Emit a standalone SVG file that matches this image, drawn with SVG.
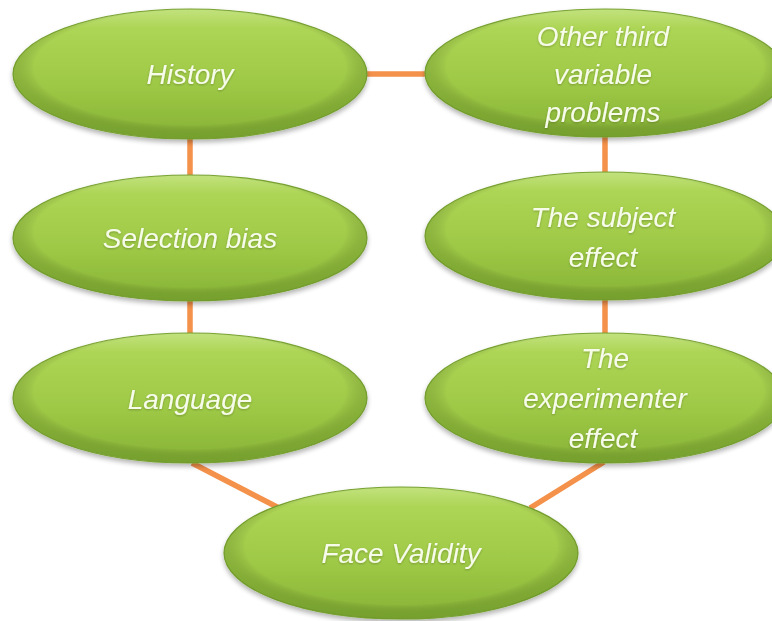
<svg xmlns="http://www.w3.org/2000/svg" width="772" height="621" viewBox="0 0 772 621">
  <defs>
    <linearGradient id="bodyFill" x1="0" y1="0" x2="0" y2="1">
      <stop offset="0" stop-color="#c2e27e"/>
      <stop offset="0.15" stop-color="#add555"/>
      <stop offset="0.6" stop-color="#9dc845"/>
      <stop offset="1" stop-color="#86b236"/>
    </linearGradient>
    <radialGradient id="rimShade" cx="0.5" cy="0.45" r="0.5">
      <stop offset="0.88" stop-color="#000000" stop-opacity="0"/>
      <stop offset="1" stop-color="#3d5f10" stop-opacity="0.22"/>
    </radialGradient>
    <filter id="drop" x="-10%" y="-10%" width="120%" height="130%">
      <feGaussianBlur in="SourceAlpha" stdDeviation="2.5"/>
      <feOffset dx="0" dy="3" result="b"/>
      <feComponentTransfer><feFuncA type="linear" slope="0.3"/></feComponentTransfer>
      <feMerge><feMergeNode/><feMergeNode in="SourceGraphic"/></feMerge>
    </filter>
    <filter id="textGlow" x="-10%" y="-30%" width="120%" height="160%">
      <feGaussianBlur in="SourceAlpha" stdDeviation="1.2"/>
      <feOffset dx="0" dy="1" result="s"/>
      <feComponentTransfer><feFuncA type="linear" slope="0.25"/></feComponentTransfer>
      <feMerge><feMergeNode/><feMergeNode in="SourceGraphic"/></feMerge>
    </filter>
  </defs>
  <style>
    .body { fill: url(#bodyFill); stroke: #7aa533; stroke-width: 1.2; }
    .rim { fill: url(#rimShade); }
    .lbl { font-family: "Liberation Sans", Arial, sans-serif; font-style: italic; font-size: 28px; fill: #f6fbea; text-anchor: middle; filter: url(#textGlow); }
    .link { stroke: #f4914a; stroke-width: 5.5; stroke-linecap: butt; fill: none; }
  </style>
  <rect width="772" height="621" fill="#ffffff"/>

  <!-- connectors -->
  <g id="connectors">
    <line class="link" x1="366" y1="74" x2="428" y2="74"/>
    <line class="link" x1="190" y1="138" x2="190" y2="177"/>
    <line class="link" x1="190" y1="300" x2="190" y2="335"/>
    <line class="link" x1="605" y1="136" x2="605" y2="174"/>
    <line class="link" x1="605" y1="298" x2="605" y2="335"/>
    <line class="link" x1="192" y1="463" x2="279" y2="508"/>
    <line class="link" x1="604" y1="462" x2="530" y2="508"/>
  </g>

  <g id="history" filter="url(#drop)">
    <ellipse class="body" cx="190" cy="74" rx="177" ry="65"/>
    <ellipse class="rim" cx="190" cy="74" rx="177" ry="65"/>
    <text class="lbl" x="190" y="84">History</text>
  </g>

  <g id="other-third-variable" filter="url(#drop)">
    <ellipse class="body" cx="605" cy="73" rx="180" ry="64"/>
    <ellipse class="rim" cx="605" cy="73" rx="180" ry="64"/>
    <text class="lbl" x="603" y="46">Other third</text>
    <text class="lbl" x="603" y="84">variable</text>
    <text class="lbl" x="603" y="122">problems</text>
  </g>

  <g id="selection-bias" filter="url(#drop)">
    <ellipse class="body" cx="190" cy="238" rx="177" ry="63"/>
    <ellipse class="rim" cx="190" cy="238" rx="177" ry="63"/>
    <text class="lbl" x="190" y="248">Selection bias</text>
  </g>

  <g id="subject-effect" filter="url(#drop)">
    <ellipse class="body" cx="605" cy="236" rx="180" ry="64"/>
    <ellipse class="rim" cx="605" cy="236" rx="180" ry="64"/>
    <text class="lbl" x="603" y="227">The subject</text>
    <text class="lbl" x="603" y="267">effect</text>
  </g>

  <g id="language" filter="url(#drop)">
    <ellipse class="body" cx="190" cy="398" rx="177" ry="65"/>
    <ellipse class="rim" cx="190" cy="398" rx="177" ry="65"/>
    <text class="lbl" x="190" y="409">Language</text>
  </g>

  <g id="experimenter-effect" filter="url(#drop)">
    <ellipse class="body" cx="605" cy="398" rx="180" ry="65"/>
    <ellipse class="rim" cx="605" cy="398" rx="180" ry="65"/>
    <text class="lbl" x="605" y="368">The</text>
    <text class="lbl" x="605" y="408">experimenter</text>
    <text class="lbl" x="603" y="448">effect</text>
  </g>

  <g id="face-validity" filter="url(#drop)">
    <ellipse class="body" cx="401" cy="553" rx="177" ry="66"/>
    <ellipse class="rim" cx="401" cy="553" rx="177" ry="66"/>
    <text class="lbl" x="401" y="563">Face Validity</text>
  </g>
</svg>
